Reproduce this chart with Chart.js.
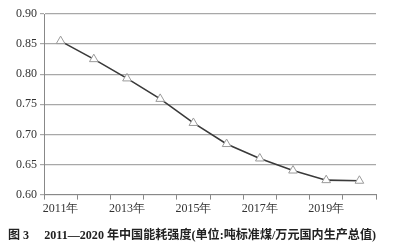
<!DOCTYPE html>
<html>
<head>
<meta charset="utf-8">
<script src="https://cdn.jsdelivr.net/npm/chart.js@4"></script>
<style>
  html, body { margin: 0; padding: 0; background: #fff; }
  #wrap { width: 400px; height: 250px; position: relative; }
</style>
</head>
<body>
<div id="wrap"><canvas id="grafico"></canvas></div>
<script>
// datos
const years = ["2011年", "2012年", "2013年", "2014年", "2015年", "2016年", "2017年", "2018年", "2019年", "2020年"];
const intensity = [0.855, 0.825, 0.793, 0.759, 0.719, 0.684, 0.660, 0.640, 0.624, 0.623];
const yMin = 0.60, yMax = 0.90, yStep = 0.05;
const caption = "图 3\u3000 2011—2020 年中国能耗强度(单位:吨标准煤/万元国内生产总值)";

const ctx = document.getElementById("grafico").getContext("2d");
new Chart(ctx, {
    type: "line",
    data: {
        labels: years,
        datasets: [{
            data: intensity,
            borderColor: "#3a3a3a",
            borderWidth: 1.6,
            tension: 0,
            pointStyle: "triangle",
            pointRadius: 5,
            pointBackgroundColor: "#ffffff",
            pointBorderColor: "#9a9a9a",
            pointBorderWidth: 1
        }]
    },
    options: {
        responsive: true,
        maintainAspectRatio: false,
        animation: false,
        layout: { padding: { left: 8, right: 24, top: 14, bottom: 6 } },
        plugins: {
            legend: { display: false },
            tooltip: { enabled: false },
            title: {
                display: true,
                position: "bottom",
                text: caption,
                color: "#222",
                font: { family: "'Liberation Serif', 'Noto Sans CJK SC'", size: 12.5, weight: "bold" },
                padding: { top: 10, bottom: 1 },
                align: "start"
            }
        },
        scales: {
            x: {
                offset: true,
                grid: {
                    display: true,
                    drawOnChartArea: false,
                    drawTicks: true,
                    tickLength: 5,
                    offset: true,
                    color: "#888"
                },
                border: { color: "#888", width: 1 },
                ticks: {
                    autoSkip: false,
                    maxRotation: 0,
                    color: "#333",
                    font: { family: "'Liberation Serif'", size: 12 },
                    padding: 2,
                    callback: (v, i) => (i % 2 === 0 ? years[i] : "")
                }
            },
            y: {
                min: yMin,
                max: yMax,
                afterFit: s => { s.width = 36; },
                grid: { color: "#a8a8a8", lineWidth: 1.2, tickLength: 4 },
                border: { color: "#888", width: 1 },
                ticks: {
                    stepSize: yStep,
                    color: "#333",
                    font: { family: "'Liberation Serif'", size: 12 },
                    padding: 3,
                    callback: v => (Math.round(Number(v) * 100) / 100).toFixed(2)
                }
            }
        }
    }
});
</script>
</body>
</html>
